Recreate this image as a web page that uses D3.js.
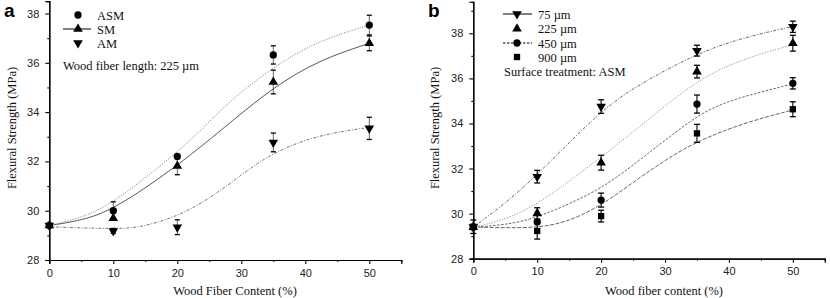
<!DOCTYPE html>
<html><head><meta charset="utf-8">
<script src="https://cdn.jsdelivr.net/npm/d3@7"></script>
<style>body{margin:0;background:#fff}svg{display:block}</style>
</head><body>
<svg id="c" width="830" height="298"></svg>
<script>
// ---------- data ----------
const xTicks = [0, 10, 20, 30, 40, 50];
const yTicks = [28, 30, 32, 34, 36, 38];
const contentA = [0, 10, 20, 35, 50];
const asmVals = [29.4, 30.0, 32.2, 36.32, 37.53];
const asmErr  = [0.0, 0.36, 0.0, 0.37, 0.4];
const smVals  = [29.4, 29.69, 31.81, 35.22, 36.79];
const smErr   = [0.0, 0.0, 0.35, 0.48, 0.3];
const amVals  = [29.4, 29.18, 29.33, 32.77, 33.34];
const amErr   = [0.0, 0.1, 0.3, 0.38, 0.45];
const asmFit = [[0,29.4],[5,29.7],[10,30.3],[20,32.35],[25,33.6],[28.2,34.45],[35,35.84],[42,36.9],[50,37.53]];
const smFit  = [[0,29.4],[5,29.6],[10,30.03],[20,31.8],[28.75,33.68],[35,35.0],[42,36.1],[50,36.79]];
const amFit  = [[0,29.35],[5,29.3],[10,29.27],[14,29.3],[20,29.76],[25,30.48],[30,31.45],[34,32.2],[39,32.8],[44,33.15],[50,33.38]];

const contentB = [0, 10, 20, 35, 50];
const l75Vals  = [29.4, 31.64, 34.75, 37.23, 38.29];
const l75Err   = [0.0, 0.28, 0.3, 0.24, 0.25];
const l225Vals = [29.4, 30.01, 32.26, 36.3, 37.56];
const l225Err  = [0.0, 0.25, 0.33, 0.28, 0.35];
const l450Vals = [29.4, 29.63, 30.6, 34.86, 35.78];
const l450Err  = [0.0, 0.0, 0.31, 0.4, 0.25];
const l900Vals = [29.42, 29.23, 29.89, 33.56, 34.63];
const l900Err  = [0.3, 0.36, 0.26, 0.4, 0.33];
const l75Fit  = [[0,29.4],[5,30.45],[10,31.71],[20,34.6],[26,35.75],[35,37.11],[42,37.8],[50,38.3]];
const l225Fit = [[0,29.4],[4,29.64],[10,30.34],[20,32.5],[26,33.85],[35,35.95],[42,36.85],[50,37.5]];
const l450Fit = [[0,29.4],[5,29.5],[10,29.79],[20,31.05],[26,32.38],[30,33.25],[35,34.35],[40,35.05],[50,35.75]];
const l900Fit = [[0,29.4],[5,29.37],[10,29.38],[14.5,29.6],[20,30.34],[26,31.6],[31,32.55],[35,33.2],[42,34.0],[50,34.6]];

// ---------- drawing ----------
const svg = d3.select("#c");
const tickFont = "'Liberation Sans', Arial, sans-serif";
const serif = "'Liberation Serif', 'Times New Roman', serif";

function panel(opts) {
  const g = svg.append("g");
  const x = d3.scaleLinear().domain([0, 55]).range([opts.x0, opts.x1]);
  const y = d3.scaleLinear().domain([28, opts.ytop]).range([opts.y0, opts.y1]);

  const xAxis = d3.axisBottom(x).tickValues(xTicks).tickSize(4).tickPadding(5).tickFormat(d3.format("d"));
  const xMinor = d3.axisBottom(x).tickValues(d3.range(5, 56, 10)).tickSize(2).tickFormat("");
  const yAxis = d3.axisLeft(y).tickValues(yTicks).tickSize(4).tickPadding(6).tickFormat(d3.format("d"));
  const yMinor = d3.axisLeft(y).tickValues(d3.range(29, opts.ytop, 2)).tickSize(2).tickFormat("");
  [xAxis, xMinor].forEach(ax => {
    g.append("g").attr("transform", `translate(0,${opts.y0})`).call(ax);
  });
  [yAxis, yMinor].forEach(ax => {
    g.append("g").attr("transform", `translate(${opts.x0},0)`).call(ax);
  });
  g.selectAll(".domain").attr("stroke", "#000").attr("stroke-width", 1.2);
  g.selectAll(".tick line").attr("stroke", "#000").attr("stroke-width", 1.1);
  g.selectAll(".tick text").attr("font-family", tickFont).attr("font-size", 11).attr("fill", "#222");

  g.append("text").attr("x", opts.xtx).attr("y", 295).attr("text-anchor", "middle")
    .attr("font-family", serif).attr("font-size", 12.5).attr("fill", "#111").text(opts.xtitle);
  g.append("text").attr("transform", `translate(${opts.ytx},128) rotate(-90)`).attr("text-anchor", "middle")
    .attr("font-family", serif).attr("font-size", 12.5).attr("fill", "#111").text("Flexural Strength (MPa)");
  g.append("text").attr("x", opts.labx).attr("y", 17).attr("font-family", tickFont)
    .attr("font-weight", "bold").attr("font-size", 19).text(opts.label);

  const line = d3.line().x(d => x(d[0])).y(d => y(d[1])).curve(d3.curveBasis);
  opts.series.forEach(s => {
    g.append("path").datum(s.fit).attr("d", line).attr("fill", "none")
      .attr("stroke", s.lineColor).attr("stroke-width", 0.9).attr("stroke-dasharray", s.dash);
  });

  opts.series.forEach(s => {
    const cw = opts.capW;
    s.vals.forEach((v, i) => {
      const e = s.err[i];
      const cx = x(opts.content[i]);
      if (e > 0) {
        g.append("line").attr("x1", cx).attr("x2", cx).attr("y1", y(v - e)).attr("y2", y(v + e))
          .attr("stroke", "#000").attr("stroke-width", opts.errW);
        [v - e, v + e].forEach(t => g.append("line").attr("x1", cx - cw).attr("x2", cx + cw)
          .attr("y1", y(t)).attr("y2", y(t)).attr("stroke", "#000").attr("stroke-width", 1.3));
      }
      g.append("path").attr("d", d3.symbol().type(s.sym).size(s.size)())
        .attr("transform", `translate(${cx},${y(v)}) rotate(${s.rot || 0})`).attr("fill", "#000");
    });
  });

  opts.series.forEach((s, i) => {
    const ly = opts.legY[i];
    if (s.legLine) {
      g.append("line").attr("x1", opts.legL0).attr("x2", opts.legL1).attr("y1", ly).attr("y2", ly)
        .attr("stroke", "#000").attr("stroke-width", 1).attr("stroke-dasharray", s.legLine);
    }
    g.append("path").attr("d", d3.symbol().type(s.sym).size(s.size)())
      .attr("transform", `translate(${opts.legMx},${ly}) rotate(${s.rot || 0})`).attr("fill", "#000");
    g.append("text").attr("x", opts.legTx).attr("y", ly + 4.5).attr("font-family", serif)
      .attr("font-size", 12.5).attr("fill", "#111").text(s.name);
  });
  g.append("text").attr("x", opts.noteX).attr("y", opts.noteY).attr("font-family", serif)
    .attr("font-size", 12.5).attr("fill", "#111").text(opts.note);
}

panel({
  x0: 49.3, x1: 401.3, y0: 260, y1: 260 - 24.65 * 10.5, ytop: 38.5,
  xtitle: "Wood Fiber Content (%)", xtx: 235, ytx: 16, label: "a", labx: 4,
  content: contentA, capW: 2.5, errW: 0.6,
  legY: [15, 29, 43], legMx: 78, legTx: 97, legL0: 63, legL1: 91,
  note: "Wood fiber length: 225 \u00b5m", noteX: 63, noteY: 70,
  series: [
    {name: "ASM", vals: asmVals, err: asmErr, fit: asmFit, sym: d3.symbolCircle, size: 42, dash: "1.2,1.5", lineColor: "#777"},
    {name: "SM", vals: smVals, err: smErr, fit: smFit, sym: d3.symbolTriangle, size: 40, dash: null, lineColor: "#444", legLine: "none"},
    {name: "AM", vals: amVals, err: amErr, fit: amFit, sym: d3.symbolTriangle, size: 40, rot: 180, dash: "3,1.5,1,1.5", lineColor: "#666"}
  ]
});

panel({
  x0: 473.3, x1: 824.8, y0: 258.7, y1: 258.7 - 22.54 * 11.4, ytop: 39.4,
  xtitle: "Wood fiber content (%)", xtx: 664, ytx: 439, label: "b", labx: 428,
  content: contentB, capW: 3, errW: 1.1,
  legY: [14, 28.7, 43, 57], legMx: 517, legTx: 538, legL0: 503, legL1: 532,
  note: "Surface treatment: ASM", noteX: 504, noteY: 76,
  series: [
    {name: "75 \u00b5m", vals: l75Vals, err: l75Err, fit: l75Fit, sym: d3.symbolTriangle, size: 40, rot: 180, dash: "3,1.5,1,1.5", lineColor: "#555", legLine: "none"},
    {name: "225 \u00b5m", vals: l225Vals, err: l225Err, fit: l225Fit, sym: d3.symbolTriangle, size: 40, dash: "1.2,1.5", lineColor: "#888"},
    {name: "450 \u00b5m", vals: l450Vals, err: l450Err, fit: l450Fit, sym: d3.symbolCircle, size: 42, dash: "2.5,1.5", lineColor: "#555", legLine: "2.5,1.5"},
    {name: "900 \u00b5m", vals: l900Vals, err: l900Err, fit: l900Fit, sym: d3.symbolSquare, size: 40, dash: "4,1.5", lineColor: "#555"}
  ]
});
</script>
</body></html>
